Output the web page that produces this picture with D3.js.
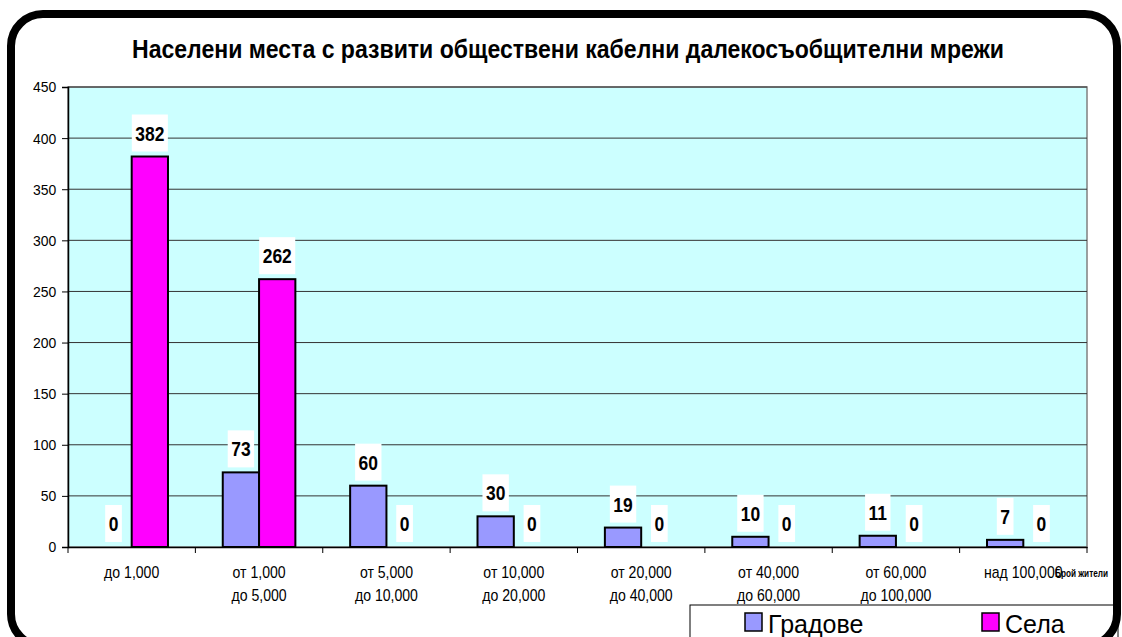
<!DOCTYPE html>
<html><head><meta charset="utf-8">
<script src="https://cdn.jsdelivr.net/npm/d3@7/dist/d3.min.js"></script>
<style>body{margin:0;background:#fff}svg{display:block}</style>
</head><body>
<svg id="c" width="1122" height="637"></svg>
<script>
const categories = [["до 1,000"],["от 1,000","до 5,000"],["от 5,000","до 10,000"],["от 10,000","до 20,000"],["от 20,000","до 40,000"],["от 40,000","до 60,000"],["от 60,000","до 100,000"],["над 100,000"]];
const seriesNames = ["Градове","Села"];
const gradove = [0,73,60,30,19,10,11,7];
const sela = [382,262,0,0,0,0,0,0];
const yTicks = [0,50,100,150,200,250,300,350,400,450];
const colors = ["#9999FF","#FF00FF"];
const title = "Населени места с развити обществени кабелни далекосъобщителни мрежи";
const axisTitle = "Брой жители";

const FONT = "'Liberation Sans',Arial,sans-serif";
const svg = d3.select("#c");
const L=68,R=1087,T=87,B=547;
const x = d3.scaleBand().domain(d3.range(categories.length)).range([L,R]);
const y = d3.scaleLinear().domain([0,450]).range([B,T]);
const barW = x.bandwidth()*0.285;

svg.append("rect").attr("width",1122).attr("height",637).attr("fill","#fff");
// plot bg
svg.append("rect").attr("x",L).attr("y",T).attr("width",R-L).attr("height",B-T)
  .attr("fill","#CCFFFF").attr("stroke","#808080").attr("stroke-width",1.5);
// grid
svg.append("g").selectAll("line").data(yTicks.filter(d=>d>0)).join("line")
  .attr("x1",L).attr("x2",R).attr("y1",d=>y(d)).attr("y2",d=>y(d))
  .attr("stroke","#333").attr("stroke-width",1);
// y axis
const ya = svg.append("g").attr("transform",`translate(${L},0)`)
  .call(d3.axisLeft(y).tickValues(yTicks).tickSize(6).tickPadding(7).tickFormat(d3.format("d")));
ya.select(".domain").attr("stroke","#000").attr("stroke-width",1.5);
ya.selectAll(".tick line").attr("stroke","#000");
ya.selectAll(".tick text").attr("font-family",FONT).attr("font-size",15.5).attr("fill","#000")
  .attr("transform","scale(0.9,1)");
// x axis
const xa = svg.append("g").attr("transform",`translate(0,${B})`)
  .call(d3.axisBottom(x).tickSize(0).tickFormat(""));
xa.select(".domain").attr("stroke","#000").attr("stroke-width",1.5);
const xt = d3.scaleLinear().domain([0,categories.length]).range([L,R]);
svg.append("g").selectAll("line").data(d3.range(categories.length+1)).join("line")
  .attr("x1",d=>xt(d)).attr("x2",d=>xt(d)).attr("y1",B).attr("y2",B+6).attr("stroke","#000").attr("stroke-width",1);
const xl = svg.append("g").selectAll("g").data(categories).join("g")
  .attr("transform",(d,i)=>`translate(${x(i)+x.bandwidth()/2},578) scale(0.88,1)`);
xl.append("text").attr("text-anchor","middle").attr("font-family",FONT).attr("font-size",16).attr("fill","#000")
  .selectAll("tspan").data(d=>d).join("tspan").attr("x",0).attr("dy",(d,i)=>i?23:0).text(d=>d);

// bars
const series=[gradove,sela];
series.forEach((vals,s)=>{
  const g=svg.append("g");
  g.selectAll("rect").data(vals).join("rect")
    .attr("x",(d,i)=>x(i)+x.bandwidth()/2-barW+s*barW).attr("width",barW)
    .attr("y",d=>y(d)).attr("height",d=>B-y(d))
    .attr("fill",colors[s]).attr("stroke","#000").attr("stroke-width",d=>d>0?2:0);
});
// labels
const SX=0.83;
series.forEach((vals,s)=>{
  vals.forEach((v,i)=>{
    const cx=x(i)+x.bandwidth()/2-barW/2+s*barW;
    const by=y(v)-5;
    const g=svg.append("g");
    const tg=g.append("g").attr("transform",`translate(${cx},${by-11}) scale(${SX},1)`);
    const t=tg.append("text").attr("text-anchor","middle")
      .attr("font-family",FONT).attr("font-weight","bold").attr("font-size",21).attr("fill","#000").text(v);
    const w=t.node().getComputedTextLength()*SX+7;
    g.insert("rect",":first-child").attr("x",cx-w/2).attr("y",by-37).attr("width",w).attr("height",37).attr("fill","#fff");
  });
});
// title
svg.append("text").attr("x",132).attr("y",58)
  .attr("font-family",FONT).attr("font-weight","bold").attr("font-size",25)
  .attr("textLength",872).attr("lengthAdjust","spacingAndGlyphs").text(title);
// legend
const lg=svg.append("g");
lg.append("rect").attr("x",690).attr("y",605).attr("width",428).attr("height",60).attr("fill","#fff").attr("stroke","#000").attr("stroke-width",1);
const lx=[745,982];
seriesNames.forEach((n,i)=>{
  lg.append("rect").attr("x",lx[i]).attr("y",613).attr("width",17).attr("height",18).attr("fill",colors[i]).attr("stroke","#000").attr("stroke-width",1.5);
  lg.append("text").attr("x",lx[i]+23).attr("y",633).attr("font-family",FONT).attr("font-size",25).text(n);
});
// axis title
svg.append("text").attr("x",1055).attr("y",577).attr("font-family",FONT).attr("font-weight","bold").attr("font-size",11)
  .attr("textLength",53).attr("lengthAdjust","spacingAndGlyphs").text(axisTitle);
// frame
svg.append("rect").attr("x",11).attr("y",14).attr("width",1106).attr("height",632).attr("rx",32)
  .attr("fill","none").attr("stroke","#000").attr("stroke-width",8);
</script>
</body></html>
